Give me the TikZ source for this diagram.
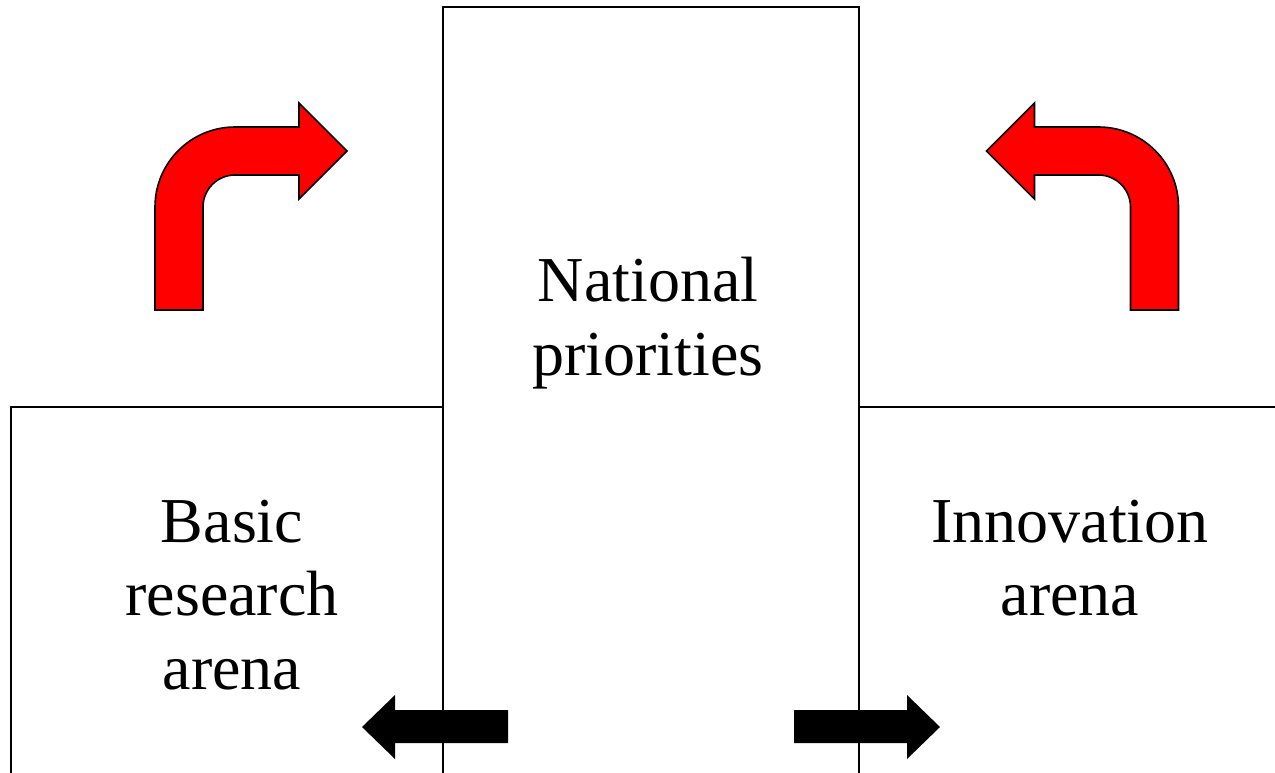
\documentclass[tikz,border=0pt]{standalone}
\usepackage{fontspec}
\setmainfont{Liberation Serif}

\tikzset{
    frame/.style={draw=black, line width=1pt},
    bentarrow/.style={fill=red, draw=black, line width=1.2pt, line join=miter},
    flatarrow/.style={fill=black, draw=none},
    lbl/.style={align=center, font=\fontsize{48}{55}\selectfont, inner sep=0pt}
}

\begin{document}
\begin{tikzpicture}[x=0.75pt, y=0.75pt]
        \useasboundingbox (0,0) rectangle (1275,-772);
        \clip (0,0) rectangle (1275,-772);

        % -- three arenas, open at the bottom ------------------------------------
        \draw[frame] (11,-800) -- (11,-407) -- (443,-407);
        \draw[frame] (443,-800) -- (443,-7) -- (859,-7) -- (859,-800);
        \draw[frame] (859,-407) -- (1290,-407);

        % -- labels ------------------------------------------------------------------
        \node[lbl] (prio)  at (648,-323) {National\\priorities};
        \node[lbl] (basic) at (232,-595) {Basic\\research\\arena};
        \node[lbl] (innov) at (1070,-558) {Innovation\\arena};

        % -- red bent arrow, left; mirrored copy on the right ------------------------
        \foreach \sx/\dx in {1/0, -1/1333.5} {
            \begin{scope}[shift={(\dx,0)}, xscale=\sx]
                \draw[bentarrow] (155,-310) -- (155,-207) arc (180:90:80)
                    -- (299,-127) -- (299,-103) -- (347,-151) -- (299,-199)
                    -- (299,-175) -- (235,-175) arc (90:180:32)
                    -- (203,-310) -- cycle;
            \end{scope}
        }

        % -- black arrows out of the priorities box ----------------------------------
        \foreach \sx/\dx in {1/0, -1/1302} {
            \begin{scope}[shift={(\dx,0)}, xscale=\sx]
                \fill[flatarrow] (508,-710) -- (395,-710) -- (395,-695)
                    -- (362,-727) -- (395,-759) -- (395,-743) -- (508,-743) -- cycle;
            \end{scope}
        }
    \end{tikzpicture}
\end{document}
